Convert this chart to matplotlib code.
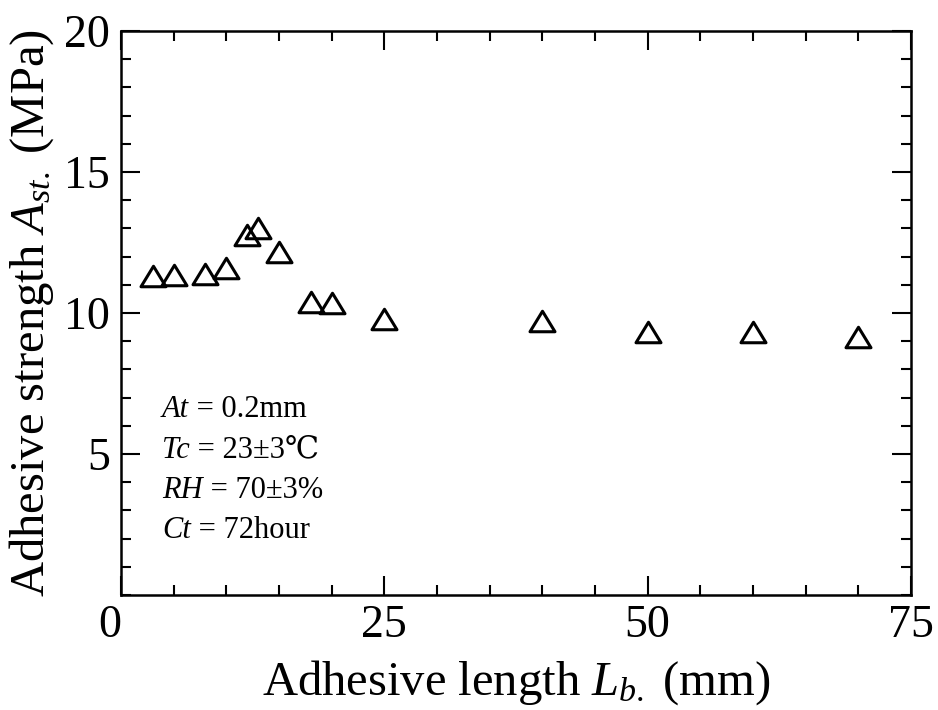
import matplotlib
matplotlib.use("Agg")
import matplotlib.pyplot as plt
from matplotlib.path import Path

# Adhesive length (mm) vs adhesive strength (MPa)
length_mm = [3, 5, 8, 10, 12, 13, 15, 18, 20, 25, 40, 50, 60, 70]
strength_mpa = [11.3, 11.35, 11.38, 11.58, 12.77, 13.03, 12.18, 10.39, 10.35, 9.79, 9.70, 9.33, 9.31, 9.15]

# test conditions: italic symbol + value
cond_symbols = ["At", "Tc", "RH", "Ct"]
cond_values = [" = 0.2mm", " = 23±3℃", " = 70±3%", " = 72hour"]

plt.rcParams['font.family'] = ['Liberation Serif', 'DejaVu Serif']
plt.rcParams['mathtext.fontset'] = 'custom'
plt.rcParams['mathtext.rm'] = 'Liberation Serif'
plt.rcParams['mathtext.it'] = 'Liberation Serif:italic'

# slightly flattened open triangle
tri = Path([(0, 0.82), (-1, -0.82), (1, -0.82), (0, 0.82)],
           [Path.MOVETO, Path.LINETO, Path.LINETO, Path.CLOSEPOLY])

fig = plt.figure(figsize=(9.38, 7.10), dpi=100)
ax = fig.add_axes([121/938, 1 - 595/710, 790/938, 564/710])

ax.plot(length_mm, strength_mpa, linestyle='none', marker=tri, markersize=18,
        markerfacecolor='none', markeredgecolor='black', markeredgewidth=2.2)

ax.set_xlim(0, 75)
ax.set_ylim(0, 20)
ax.set_xticks([0, 25, 50, 75])
ax.set_xticks(range(0, 76, 5), minor=True)
ax.set_yticks([5, 10, 15, 20])
ax.set_yticks(range(0, 21, 1), minor=True)
ax.tick_params(which='both', direction='in', top=True, right=True, width=1.5)
ax.tick_params(which='major', length=14, labelsize=33)
ax.tick_params(axis='x', which='major', pad=7)
ax.tick_params(axis='y', which='major', pad=8)
ax.tick_params(which='minor', length=7)
for s in ax.spines.values():
    s.set_linewidth(1.8)
# the "0" sits just left of the origin in the original
ax.get_xticklabels()[0].set_horizontalalignment('right')

ax.set_xlabel("Adhesive length $L_{b.}$ (mm)", fontsize=35, labelpad=8)
ax.set_ylabel("Adhesive strength $A_{st.}$ (MPa)", fontsize=35, labelpad=6)

for i in range(len(cond_symbols)):
    t = fig.text(162/938, 1 - (424 + 40.5*i)/710, cond_symbols[i],
                 fontsize=22, style='italic', va='bottom', ha='left')
    ax.annotate(cond_values[i], xy=(1, 0), xycoords=t,
                fontsize=22, va='bottom', ha='left')

fig.savefig("out.png", dpi=100)
